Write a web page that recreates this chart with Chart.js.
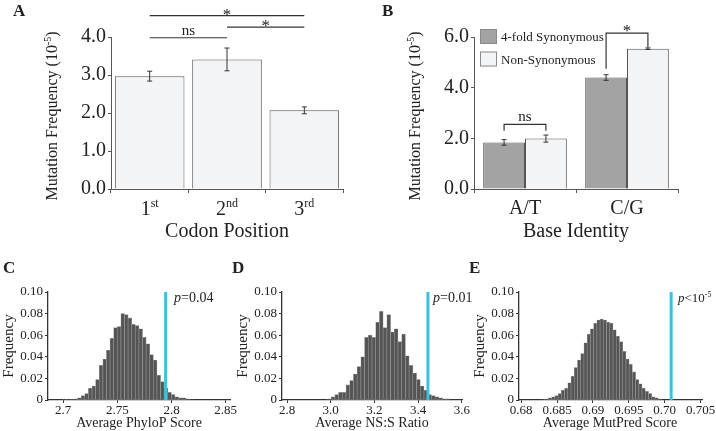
<!DOCTYPE html>
<html>
<head>
<meta charset="utf-8">
<script src="https://cdn.jsdelivr.net/npm/chart.js@4.4.0/dist/chart.umd.min.js"></script>
<style>
  html, body { margin: 0; padding: 0; background: #fff; }
  #wrap { position: relative; width: 716px; height: 431px; overflow: hidden; }
  #wrap canvas { position: absolute; left: 0; top: 0; }
</style>
</head>
<body>
<div id="wrap">
  <canvas id="chartA" width="716" height="431"></canvas>
  <canvas id="chartB" width="716" height="431"></canvas>
  <canvas id="chartC" width="716" height="431"></canvas>
  <canvas id="chartD" width="716" height="431"></canvas>
  <canvas id="chartE" width="716" height="431"></canvas>
</div>
<script>
// panel A - codon position
const codonCats = ['1st', '2nd', '3rd'];
const codonFreq = [2.97, 3.41, 2.07];
const codonErr = [0.13, 0.30, 0.09];
const sigFrom = [0, 1, 0];
const sigTo = [1, 2, 2];
const sigLevel = [3.98, 4.26, 4.56];
const sigText = ['ns', '*', '*'];

// panel B - base identity
const baseCats = ['A/T', 'C/G'];
const seriesNames = ['4-fold Synonymous', 'Non-Synonymous'];
const synFreq = [1.84, 4.40];
const synErr = [0.11, 0.11];
const nonsynFreq = [1.99, 5.54];
const nonsynErr = [0.14, 0.03];
const bracketTop = [2.55, 6.15];
const bracketLeft = [2.30, 4.75];
const bracketRight = [2.30, 5.60];
const bracketText = ['ns', '*'];

// panels C-E - permutation histograms
const phylopBins = [0.0003, 0.0005, 0.0007, 0.001, 0.002, 0.004, 0.006, 0.011, 0.013, 0.019,
  0.032, 0.038, 0.046, 0.057, 0.067, 0.068, 0.080, 0.079, 0.076, 0.070, 0.069, 0.066,
  0.058, 0.052, 0.042, 0.037, 0.023, 0.017, 0.011, 0.007, 0.005, 0.003, 0.002, 0.002, 0.001, 0.0005];
const phylopStart = 2.700, phylopWidth = 0.00333, phylopObserved = 2.7946;
const phylopTicks = [2.7, 2.75, 2.8, 2.85];
const phylopTickLabels = ['2.7', '2.75', '2.8', '2.85'];

const nssBins = [0.001, 0.003, 0.005, 0.007, 0.007, 0.014, 0.018, 0.024, 0.031, 0.040, 0.058,
  0.060, 0.058, 0.072, 0.082, 0.067, 0.079, 0.063, 0.066, 0.054, 0.061, 0.041, 0.032, 0.025,
  0.019, 0.013, 0.009, 0.005, 0.004, 0.003, 0.002, 0.001, 0.001];
const nssStart = 2.985, nssWidth = 0.017, nssObserved = 3.445;
const nssTicks = [2.8, 3.0, 3.2, 3.4, 3.6];
const nssTickLabels = ['2.8', '3.0', '3.2', '3.4', '3.6'];

const mutpredBins = [0.0005, 0.001, 0.002, 0.003, 0.004, 0.006, 0.009, 0.011, 0.016, 0.022,
  0.030, 0.037, 0.043, 0.053, 0.061, 0.066, 0.071, 0.074, 0.075, 0.074, 0.072, 0.071, 0.065,
  0.059, 0.054, 0.045, 0.038, 0.033, 0.026, 0.019, 0.015, 0.011, 0.008, 0.006, 0.003, 0.002, 0.001];
const mutpredStart = 0.6829, mutpredWidth = 0.00045, mutpredObserved = 0.7009;
const mutpredTicks = [0.68, 0.685, 0.69, 0.695, 0.70, 0.705];
const mutpredTickLabels = ['0.68', '0.685', '0.69', '0.695', '0.70', '0.705'];

const freqTicks = ['0', '0.02', '0.04', '0.06', '0.08', '0.10'];

const serif = '"Liberation Serif", "Times New Roman", serif';
const axisColor = '#555';
const textColor = '#222';
const lightFill = '#f3f4f6';
const darkFill = '#a3a3a3';
const histFill = '#555555';
const refBlue = '#3bbfe6';

// text with optional italic / superscript pieces
function drawRich(ctx, it) {
  const parts = typeof it.parts === 'string' ? [{ t: it.parts }] : it.parts;
  const size = it.size;
  const fontFor = p => (p.it ? 'italic ' : '') + (it.bold ? 'bold ' : '') +
    (p.sup ? Math.round(size * 0.62) : size) + 'px ' + serif;
  let total = 0;
  parts.forEach(p => { ctx.font = fontFor(p); p.w = ctx.measureText(p.t).width; total += p.w; });
  ctx.save();
  ctx.translate(it.x, it.y);
  if (it.rot) ctx.rotate(it.rot);
  let x = it.align === 'center' ? -total / 2 : (it.align === 'right' ? -total : 0);
  ctx.fillStyle = it.color || textColor;
  ctx.textBaseline = 'alphabetic';
  ctx.textAlign = 'left';
  parts.forEach(p => {
    ctx.font = fontFor(p);
    ctx.fillText(p.t, x, p.sup ? -size * 0.4 : 0);
    x += p.w;
  });
  ctx.restore();
}

const textPlugin = {
  id: 'panelText',
  afterDraw(chart, args, opts) {
    const ctx = chart.ctx;
    (opts.items || []).forEach(it => drawRich(ctx, it));
    if (opts.catLabels) {
      const xs = chart.scales.x;
      opts.catLabels.forEach((parts, i) => drawRich(ctx, {
        parts, x: xs.getPixelForValue(i), y: opts.catY, size: opts.catSize, align: 'center'
      }));
    }
  }
};

const errorBars = {
  id: 'errorBars',
  afterDatasetsDraw(chart) {
    const ctx = chart.ctx, y = chart.scales.y;
    chart.data.datasets.forEach((ds, d) => {
      if (!ds.errors) return;
      chart.getDatasetMeta(d).data.forEach((bar, i) => {
        const v = ds.data[i], e = ds.errors[i];
        const top = y.getPixelForValue(v + e), bot = y.getPixelForValue(v - e);
        ctx.save();
        ctx.strokeStyle = '#333';
        ctx.lineWidth = 1;
        ctx.beginPath();
        ctx.moveTo(bar.x, top); ctx.lineTo(bar.x, bot);
        ctx.moveTo(bar.x - 2.5, top); ctx.lineTo(bar.x + 2.5, top);
        ctx.moveTo(bar.x - 2.5, bot); ctx.lineTo(bar.x + 2.5, bot);
        ctx.stroke();
        ctx.restore();
      });
    });
  }
};

// horizontal significance lines for panel A
const sigLines = {
  id: 'sigLines',
  afterDraw(chart) {
    const ctx = chart.ctx, xs = chart.scales.x, ys = chart.scales.y;
    sigLevel.forEach((lv, i) => {
      const x1 = xs.getPixelForValue(sigFrom[i]), x2 = xs.getPixelForValue(sigTo[i]);
      const y = ys.getPixelForValue(lv);
      ctx.save();
      ctx.strokeStyle = '#333';
      ctx.lineWidth = 1.2;
      ctx.beginPath(); ctx.moveTo(x1, y); ctx.lineTo(x2, y); ctx.stroke();
      ctx.restore();
      const star = sigText[i] === '*';
      drawRich(ctx, { parts: sigText[i], x: (x1 + x2) / 2, y: star ? y + 4 : y - 3, size: star ? 17 : 15, align: 'center' });
    });
  }
};

// brackets between the two bars of a group, panel B
const brackets = {
  id: 'brackets',
  afterDraw(chart) {
    const ctx = chart.ctx, ys = chart.scales.y;
    const m0 = chart.getDatasetMeta(0), m1 = chart.getDatasetMeta(1);
    bracketTop.forEach((lv, i) => {
      const x1 = m0.data[i].x, x2 = m1.data[i].x, y = ys.getPixelForValue(lv);
      ctx.save();
      ctx.strokeStyle = '#333';
      ctx.lineWidth = 1.2;
      ctx.beginPath();
      ctx.moveTo(x1, ys.getPixelForValue(bracketLeft[i]));
      ctx.lineTo(x1, y); ctx.lineTo(x2, y);
      ctx.lineTo(x2, ys.getPixelForValue(bracketRight[i]));
      ctx.stroke();
      ctx.restore();
      const star = bracketText[i] === '*';
      drawRich(ctx, { parts: bracketText[i], x: (x1 + x2) / 2, y: star ? y + 3 : y - 3, size: star ? 17 : 15, align: 'center' });
    });
  }
};

const boxLegend = {
  id: 'boxLegend',
  afterDraw(chart, args, opts) {
    const ctx = chart.ctx;
    chart.data.datasets.forEach((ds, i) => {
      const top = opts.y + i * opts.step;
      ctx.save();
      ctx.fillStyle = ds.backgroundColor;
      ctx.strokeStyle = '#8a8a8a';
      ctx.lineWidth = 1;
      ctx.fillRect(opts.x, top, 17, 15);
      ctx.strokeRect(opts.x + 0.5, top + 0.5, 16, 14);
      ctx.restore();
      drawRich(ctx, { parts: ds.label, x: opts.x + 21, y: top + 12, size: 13 });
    });
  }
};

const refLine = {
  id: 'refLine',
  afterDatasetsDraw(chart, args, opts) {
    const ctx = chart.ctx, xs = chart.scales.x, ys = chart.scales.y;
    const x = xs.getPixelForValue(opts.value);
    ctx.save();
    ctx.strokeStyle = refBlue;
    ctx.lineWidth = 3;
    ctx.beginPath();
    ctx.moveTo(x, ys.getPixelForValue(0));
    ctx.lineTo(x, ys.getPixelForValue(0.1));
    ctx.stroke();
    ctx.restore();
  }
};

const yTitle = [{ t: 'Mutation Frequency (10' }, { t: '-5', sup: true }, { t: ')' }];

new Chart('chartA', {
  type: 'bar',
  data: {
    labels: codonCats,
    datasets: [{
      data: codonFreq, errors: codonErr,
      backgroundColor: lightFill, borderColor: axisColor, borderWidth: 1,
      barPercentage: 0.9, categoryPercentage: 1
    }]
  },
  options: {
    responsive: false, animation: false, devicePixelRatio: 1,
    layout: { padding: { left: 71, right: 373, top: 37, bottom: 232 } },
    plugins: {
      legend: { display: false }, tooltip: { enabled: false },
      panelText: {
        items: [
          { parts: 'A', x: 13, y: 16, size: 17, bold: true },
          { parts: yTitle, x: 57, y: 116, size: 16, rot: -Math.PI / 2, align: 'center' },
          { parts: 'Codon Position', x: 227, y: 237, size: 20, align: 'center' }
        ],
        catLabels: [[{ t: '1' }, { t: 'st', sup: true }], [{ t: '2' }, { t: 'nd', sup: true }], [{ t: '3' }, { t: 'rd', sup: true }]],
        catY: 215, catSize: 20
      }
    },
    scales: {
      x: {
        ticks: { display: false },
        grid: { offset: true, drawOnChartArea: false, tickLength: 4, color: axisColor },
        border: { color: axisColor },
        afterFit: s => { s.height = 10; s.paddingLeft = 0; s.paddingRight = 0; }
      },
      y: {
        min: 0, max: 4,
        ticks: { stepSize: 1, callback: v => v.toFixed(1), font: { family: serif, size: 20 }, color: textColor, padding: 2 },
        grid: { drawOnChartArea: false, tickLength: 3, color: axisColor },
        border: { color: axisColor },
        afterFit: s => { s.width = 40; }
      }
    }
  },
  plugins: [errorBars, textPlugin, sigLines]
});

new Chart('chartB', {
  type: 'bar',
  data: {
    labels: baseCats,
    datasets: [
      { label: seriesNames[0], data: synFreq, errors: synErr, backgroundColor: darkFill, borderColor: axisColor, borderWidth: 1, barPercentage: 1, categoryPercentage: 0.82 },
      { label: seriesNames[1], data: nonsynFreq, errors: nonsynErr, backgroundColor: lightFill, borderColor: axisColor, borderWidth: 1, barPercentage: 1, categoryPercentage: 0.82 }
    ]
  },
  options: {
    responsive: false, animation: false, devicePixelRatio: 1,
    layout: { padding: { left: 434, right: 38, top: 37, bottom: 232 } },
    plugins: {
      legend: { display: false }, tooltip: { enabled: false },
      boxLegend: { x: 480, y: 29, step: 22.5 },
      panelText: {
        items: [
          { parts: 'B', x: 382, y: 16, size: 17, bold: true },
          { parts: yTitle, x: 420, y: 116, size: 16, rot: -Math.PI / 2, align: 'center' },
          { parts: 'Base Identity', x: 576, y: 237, size: 20, align: 'center' }
        ],
        catLabels: baseCats, catY: 214, catSize: 20
      }
    },
    scales: {
      x: {
        ticks: { display: false },
        grid: { offset: true, drawOnChartArea: false, tickLength: 4, color: axisColor },
        border: { color: axisColor },
        afterFit: s => { s.height = 10; s.paddingLeft = 0; s.paddingRight = 0; }
      },
      y: {
        min: 0, max: 6,
        ticks: { stepSize: 2, callback: v => v.toFixed(1), font: { family: serif, size: 20 }, color: textColor, padding: 2 },
        grid: { drawOnChartArea: false, tickLength: 3, color: axisColor },
        border: { color: axisColor },
        afterFit: s => { s.width = 40; }
      }
    }
  },
  plugins: [errorBars, textPlugin, brackets, boxLegend]
});

function histogram(id, h) {
  const pts = h.bins.map((f, i) => ({ x: h.start + (i + 0.5) * h.width, y: f }));
  return new Chart(id, {
    type: 'bar',
    data: {
      datasets: [{
        data: pts, backgroundColor: histFill, borderColor: '#9a9a9a', borderWidth: 0.6,
        borderSkipped: false, barPercentage: 1, categoryPercentage: 1
      }]
    },
    options: {
      responsive: false, animation: false, devicePixelRatio: 1,
      layout: { padding: { left: h.left - 36, right: 716 - h.right, top: 292, bottom: 11 } },
      plugins: {
        legend: { display: false }, tooltip: { enabled: false },
        refLine: { value: h.observed },
        panelText: { items: h.texts }
      },
      scales: {
        x: {
          type: 'linear', min: h.min, max: h.max, offset: false,
          afterBuildTicks: s => { s.ticks = h.ticks.map(v => ({ value: v })); },
          ticks: { callback: (v, i) => h.tickLabels[i], font: { family: serif, size: 13 }, color: textColor, padding: 0, maxRotation: 0, autoSkip: false },
          grid: { offset: false, drawOnChartArea: false, tickLength: 3, color: '#333' },
          border: { color: '#333', width: 1.3 },
          afterFit: s => { s.height = 20; s.paddingLeft = 0; s.paddingRight = 0; }
        },
        y: {
          min: 0, max: 0.1,
          ticks: { stepSize: 0.02, callback: (v, i) => freqTicks[i], font: { family: serif, size: 13 }, color: textColor, padding: 2 },
          grid: { drawOnChartArea: false, tickLength: 3, color: '#333' },
          border: { color: '#333', width: 1.3 },
          afterFit: s => { s.width = 36; }
        }
      }
    },
    plugins: [refLine, textPlugin]
  });
}

histogram('chartC', {
  bins: phylopBins, start: phylopStart, width: phylopWidth, observed: phylopObserved,
  ticks: phylopTicks, tickLabels: phylopTickLabels, min: 2.686, max: 2.854, left: 48, right: 230,
  texts: [
    { parts: 'C', x: 3, y: 273, size: 17, bold: true },
    { parts: 'Frequency', x: 12.5, y: 346, size: 15, rot: -Math.PI / 2, align: 'center' },
    { parts: 'Average PhyloP Score', x: 139, y: 427, size: 14, align: 'center' },
    { parts: [{ t: 'p', it: true }, { t: '=0.04' }], x: 174, y: 302, size: 14 }
  ]
});

histogram('chartD', {
  bins: nssBins, start: nssStart, width: nssWidth, observed: nssObserved,
  ticks: nssTicks, tickLabels: nssTickLabels, min: 2.777, max: 3.601, left: 282, right: 462,
  texts: [
    { parts: 'D', x: 232, y: 273, size: 17, bold: true },
    { parts: 'Frequency', x: 246.5, y: 346, size: 15, rot: -Math.PI / 2, align: 'center' },
    { parts: 'Average NS:S Ratio', x: 372, y: 427, size: 14, align: 'center' },
    { parts: [{ t: 'p', it: true }, { t: '=0.01' }], x: 433, y: 302, size: 14 }
  ]
});

histogram('chartE', {
  bins: mutpredBins, start: mutpredStart, width: mutpredWidth, observed: mutpredObserved,
  ticks: mutpredTicks, tickLabels: mutpredTickLabels, min: 0.6797, max: 0.7052, left: 519, right: 702,
  texts: [
    { parts: 'E', x: 469, y: 273, size: 17, bold: true },
    { parts: 'Frequency', x: 483.5, y: 346, size: 15, rot: -Math.PI / 2, align: 'center' },
    { parts: 'Average MutPred Score', x: 610, y: 427, size: 14, align: 'center' },
    { parts: [{ t: 'p', it: true }, { t: '<10' }, { t: '-5', sup: true }], x: 678, y: 302, size: 13 }
  ]
});
</script>
</body>
</html>
